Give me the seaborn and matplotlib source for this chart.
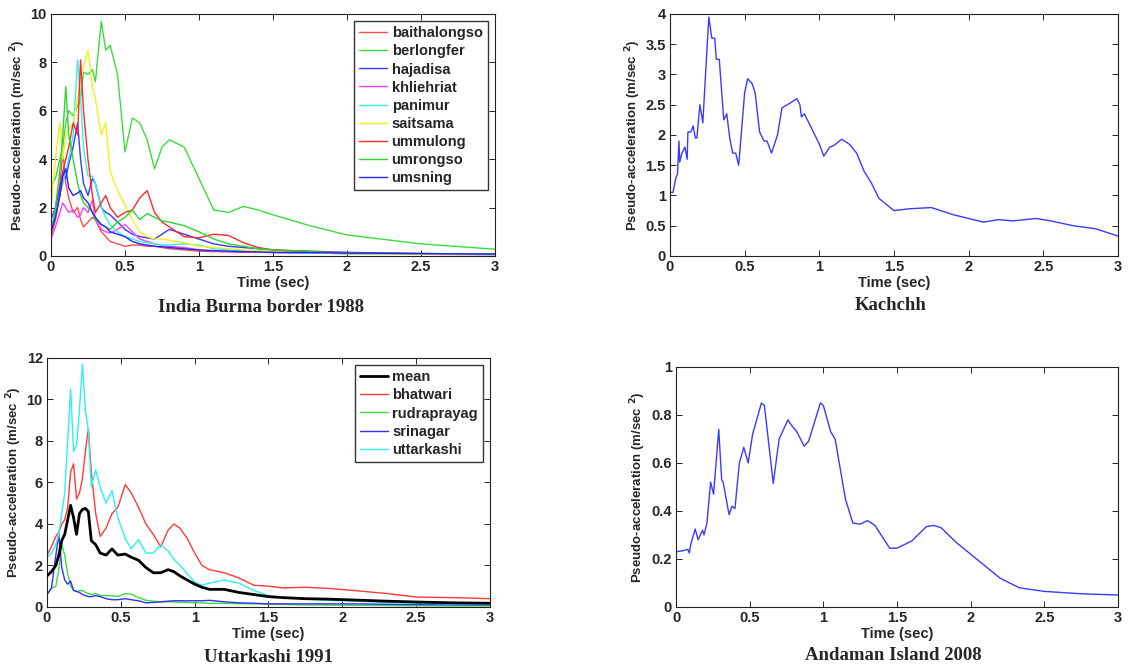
import numpy as np
import pandas as pd
import matplotlib
matplotlib.use("Agg")
import matplotlib.pyplot as plt
import seaborn as sns

# ---- India Burma border 1988 ----
t_ib = [0, 0.03, 0.06, 0.08, 0.1, 0.12, 0.15, 0.18, 0.2, 0.22, 0.25, 0.28, 0.3, 0.34, 0.37,
        0.4, 0.45, 0.5, 0.55, 0.6, 0.65, 0.7, 0.75, 0.8, 0.9, 1.0, 1.1, 1.2, 1.3, 1.4, 1.5,
        1.75, 2.0, 2.5, 3.0]
baithalongso = [0.9, 1.8, 3.0, 4.3, 3.0, 2.4, 1.8, 2.0, 1.5, 1.2, 1.4, 1.6, 1.5, 1.0, 0.8,
                0.6, 0.5, 0.4, 0.45, 0.45, 0.4, 0.4, 0.35, 0.3, 0.25, 0.2, 0.18, 0.17, 0.16, 0.15, 0.15,
                0.12, 0.1, 0.09, 0.08]
berlongfer = [2.9, 3.2, 4.0, 4.5, 5.5, 6.0, 5.8, 6.2, 6.5, 7.6, 7.5, 7.7, 7.2, 9.7, 8.5,
              8.7, 7.5, 4.3, 5.7, 5.5, 4.8, 3.6, 4.5, 4.8, 4.5, 3.2, 1.9, 1.8, 2.05, 1.9, 1.7,
              1.25, 0.87, 0.5, 0.28]
hajadisa = [1.5, 2.0, 2.8, 3.5, 3.2, 3.8, 4.5, 5.5, 4.0, 3.0, 2.5, 3.2, 3.0, 2.0, 1.8,
            1.7, 1.4, 1.1, 0.9, 0.8, 0.75, 0.7, 0.9, 1.1, 0.9, 0.7, 0.5, 0.4, 0.35, 0.3, 0.25,
            0.2, 0.15, 0.1, 0.08]
khliehriat = [0.7, 1.2, 1.8, 2.2, 2.0, 1.8, 1.9, 1.6, 1.7, 2.0, 1.8, 2.3, 1.5, 1.1, 1.0,
              0.95, 1.1, 1.3, 1.0, 0.7, 0.6, 0.5, 0.45, 0.4, 0.35, 0.25, 0.2, 0.18, 0.16, 0.15, 0.14,
              0.12, 0.1, 0.07, 0.05]
panimur = [1.2, 1.8, 2.5, 3.0, 3.5, 4.0, 5.0, 8.1, 6.5, 4.5, 3.3, 3.3, 3.0, 2.0, 1.6,
           1.3, 1.0, 0.8, 0.7, 0.6, 0.55, 0.5, 0.45, 0.45, 0.5, 0.45, 0.3, 0.25, 0.2, 0.18, 0.15,
           0.12, 0.1, 0.08, 0.06]
saitsama = [2.0, 4.0, 5.5, 4.0, 5.0, 5.2, 5.5, 6.5, 7.5, 7.8, 8.5, 7.0, 6.5, 5.0, 5.5,
            3.5, 2.7, 2.1, 1.5, 1.0, 0.8, 0.7, 0.7, 0.65, 0.55, 0.4, 0.35, 0.3, 0.25, 0.22, 0.2,
            0.15, 0.1, 0.08, 0.06]
ummulong = [0.8, 1.5, 2.5, 3.5, 4.0, 4.5, 5.5, 5.0, 8.1, 6.0, 4.0, 2.5, 1.8, 2.2, 2.5,
            2.0, 1.6, 1.8, 1.9, 2.4, 2.7, 1.8, 1.4, 1.2, 0.8, 0.75, 0.9, 0.85, 0.55, 0.35, 0.25,
            0.18, 0.12, 0.1, 0.08]
umrongso = [0.8, 2.0, 3.5, 5.0, 7.0, 5.0, 4.0, 3.0, 2.5, 2.2, 2.0, 1.8, 1.5, 1.3, 1.2,
            1.1, 1.4, 1.6, 1.9, 1.5, 1.75, 1.6, 1.45, 1.4, 1.25, 1.0, 0.7, 0.5, 0.4, 0.3, 0.25,
            0.18, 0.12, 0.1, 0.08]
umsning = [1.0, 1.6, 2.5, 3.3, 3.6, 2.8, 2.5, 2.6, 2.7, 2.4, 2.2, 1.8, 1.6, 1.3, 1.2,
           1.0, 0.9, 0.8, 0.6, 0.5, 0.45, 0.4, 0.38, 0.35, 0.3, 0.25, 0.22, 0.2, 0.18, 0.17, 0.15,
           0.14, 0.12, 0.1, 0.08]

# ---- Uttarkashi 1991 ----
t_ut = [0, 0.03, 0.06, 0.08, 0.1, 0.12, 0.14, 0.16, 0.18, 0.2, 0.22, 0.24, 0.26, 0.28, 0.3,
        0.33, 0.36, 0.4, 0.44, 0.48, 0.53, 0.57, 0.62, 0.67, 0.72, 0.77, 0.82, 0.86, 0.9, 0.95,
        1.0, 1.05, 1.1, 1.2, 1.3, 1.4, 1.5, 1.6, 1.75, 1.9, 2.1, 2.3, 2.5, 2.75, 3.0]
mean = [1.5, 1.7, 2.0, 2.5, 3.2, 3.5, 4.2, 4.9, 4.3, 3.5, 4.5, 4.7, 4.75, 4.6, 3.2,
        3.0, 2.6, 2.5, 2.8, 2.5, 2.55, 2.4, 2.25, 1.9, 1.65, 1.65, 1.8, 1.7, 1.5, 1.3,
        1.1, 0.95, 0.85, 0.85, 0.7, 0.6, 0.5, 0.45, 0.4, 0.38, 0.33, 0.28, 0.24, 0.2, 0.18]
bhatwari = [2.5, 2.9, 3.4, 3.6, 4.0, 4.2, 4.8, 6.5, 6.9, 5.2, 5.5, 6.2, 7.5, 8.6, 6.5,
            4.5, 3.4, 3.8, 4.5, 4.8, 5.9, 5.5, 4.8, 4.0, 3.5, 2.9, 3.7, 4.0, 3.8, 3.3,
            2.6, 2.0, 1.8, 1.65, 1.4, 1.05, 1.0, 0.92, 0.95, 0.9, 0.78, 0.65, 0.48, 0.45, 0.4]
rudraprayag = [0.6, 0.9, 1.0, 1.8, 3.0, 2.5, 1.6, 1.0, 0.8, 0.75, 0.78, 0.8, 0.7, 0.65, 0.6,
               0.65, 0.55, 0.55, 0.55, 0.5, 0.65, 0.62, 0.45, 0.32, 0.28, 0.25, 0.25, 0.24, 0.23, 0.22,
               0.2, 0.2, 0.18, 0.17, 0.16, 0.15, 0.14, 0.12, 0.1, 0.09, 0.08, 0.07, 0.06, 0.05, 0.05]
srinagar = [0.6, 0.9, 2.5, 3.5, 1.9, 1.3, 1.1, 1.25, 0.8, 0.75, 0.7, 0.6, 0.55, 0.5, 0.5,
            0.55, 0.5, 0.4, 0.35, 0.35, 0.4, 0.35, 0.3, 0.2, 0.22, 0.25, 0.28, 0.3, 0.3, 0.3,
            0.3, 0.3, 0.32, 0.25, 0.2, 0.18, 0.15, 0.15, 0.15, 0.15, 0.15, 0.13, 0.12, 0.1, 0.1]
uttarkashi = [2.4, 2.6, 3.0, 3.5, 4.5, 5.5, 8.0, 10.5, 7.5, 7.8, 9.5, 11.7, 9.5, 8.5, 5.8,
              6.6, 5.8, 5.0, 5.6, 4.3, 3.3, 2.8, 3.25, 2.6, 2.6, 3.0, 2.7, 2.3, 2.0, 1.6,
              1.2, 1.05, 1.15, 1.3, 1.15, 0.8, 0.55, 0.45, 0.38, 0.32, 0.28, 0.22, 0.18, 0.15, 0.14]

# ---- Kachchh ----
t_ka = [0, 0.02, 0.04, 0.05, 0.06, 0.065, 0.08, 0.1, 0.115, 0.12, 0.14, 0.155, 0.17, 0.18,
        0.2, 0.22, 0.23, 0.26, 0.28, 0.3, 0.31, 0.33, 0.36, 0.38, 0.4, 0.42, 0.44, 0.46, 0.5,
        0.52, 0.55, 0.57, 0.6, 0.63, 0.65, 0.68, 0.72, 0.75, 0.8, 0.85, 0.87, 0.88, 0.9, 0.95,
        1.0, 1.03, 1.07, 1.1, 1.15, 1.2, 1.25, 1.3, 1.35, 1.4, 1.5, 1.6, 1.75, 1.9, 2.0, 2.1,
        2.2, 2.3, 2.45, 2.55, 2.7, 2.85, 3.0]
kachchh = [1.05, 1.05, 1.3, 1.35, 1.9, 1.55, 1.7, 1.8, 1.6, 2.05, 2.05, 2.15, 1.95, 1.95,
           2.5, 2.2, 2.65, 3.95, 3.6, 3.6, 3.25, 3.25, 2.25, 2.35, 1.95, 1.7, 1.7, 1.5, 2.7,
           2.93, 2.85, 2.7, 2.05, 1.9, 1.9, 1.7, 2.0, 2.45, 2.52, 2.6, 2.5, 2.3, 2.35, 2.1,
           1.85, 1.65, 1.8, 1.83, 1.93, 1.85, 1.7, 1.4, 1.2, 0.95, 0.75, 0.78, 0.8, 0.68, 0.62, 0.56,
           0.6, 0.58, 0.62, 0.58, 0.5, 0.45, 0.33]

# ---- Andaman Island 2008 ----
t_an = [0, 0.05, 0.08, 0.09, 0.1, 0.13, 0.15, 0.18, 0.19, 0.21, 0.235, 0.255, 0.29, 0.31,
        0.32, 0.36, 0.38, 0.4, 0.43, 0.46, 0.49, 0.52, 0.58, 0.6, 0.66, 0.7, 0.76, 0.78, 0.82,
        0.87, 0.9, 0.98, 1.0, 1.05, 1.08, 1.15, 1.2, 1.25, 1.3, 1.35, 1.45, 1.5, 1.6, 1.7,
        1.75, 1.8, 1.9, 2.0, 2.2, 2.33, 2.5, 2.75, 3.0]
andaman = [0.23, 0.235, 0.24, 0.225, 0.26, 0.325, 0.28, 0.32, 0.3, 0.35, 0.52, 0.47, 0.74, 0.53,
           0.52, 0.385, 0.42, 0.41, 0.6, 0.665, 0.6, 0.72, 0.85, 0.84, 0.515, 0.7, 0.78, 0.76, 0.73,
           0.67, 0.69, 0.85, 0.84, 0.73, 0.7, 0.45, 0.35, 0.345, 0.36, 0.34, 0.245, 0.245, 0.275, 0.335,
           0.34, 0.33, 0.27, 0.22, 0.12, 0.08, 0.065, 0.055, 0.05]

ib_names = ['baithalongso', 'berlongfer', 'hajadisa', 'khliehriat', 'panimur',
            'saitsama', 'ummulong', 'umrongso', 'umsning']
ib_values = [baithalongso, berlongfer, hajadisa, khliehriat, panimur,
             saitsama, ummulong, umrongso, umsning]
ib_colors = ['#ff4a4a', '#3ddc3d', '#3a3aff', '#ff3dff', '#33f0f0',
             '#f2f21a', '#ff2a2a', '#2ed52e', '#2424ff']

ut_names = ['mean', 'bhatwari', 'rudraprayag', 'srinagar', 'uttarkashi']
ut_values = [mean, bhatwari, rudraprayag, srinagar, uttarkashi]
ut_colors = ['#000000', '#ff3a3a', '#3ddc3d', '#3030ff', '#2ef0f0']

sns.set_style('ticks')
plt.rcParams['font.family'] = ['Liberation Sans', 'DejaVu Sans']
plt.rcParams['font.weight'] = 'bold'
plt.rcParams['mathtext.default'] = 'bf'

ylab = 'Pseudo-acceleration (m/sec $^{2}$)'


def long_frame(t, names, values):
    rows = []
    for name, vals in zip(names, values):
        rows.append(pd.DataFrame({'t': t, 'a': vals, 'station': name}))
    return pd.concat(rows, ignore_index=True)


def style_axis(ax, ymax, ystep):
    ax.set_xlim(0, 3)
    ax.set_ylim(0, ymax)
    ax.set_xticks(np.arange(0, 3.01, 0.5))
    ax.set_xticklabels(['0', '0.5', '1', '1.5', '2', '2.5', '3'], fontweight='bold')
    yt = np.round(np.arange(0, ymax + 1e-9, ystep), 2)
    ax.set_yticks(yt)
    ax.set_yticklabels([('%g' % v) for v in yt], fontweight='bold')
    ax.tick_params(direction='in', top=True, right=True, length=4, width=0.7,
                   labelsize=10.5, pad=3)
    for s in ax.spines.values():
        s.set_linewidth(0.8)
        s.set_color('#222222')
    ax.set_xlabel('Time (sec)', fontsize=10.5, fontweight='bold', labelpad=1)
    ax.set_ylabel(ylab, fontsize=9.5, fontweight='bold', labelpad=2)


def add_legend(ax, names):
    ax.legend(ax.lines[:len(names)], names, loc='upper right', fontsize=10.5,
              prop={'weight': 'bold', 'size': 10.5},
              frameon=True, fancybox=False, edgecolor='#333333', framealpha=1,
              handlelength=1.9, handletextpad=0.3, labelspacing=0.28,
              borderaxespad=0.5, borderpad=0.35)


fig = plt.figure(figsize=(11.35, 6.71), dpi=100)
ax1 = fig.add_axes([0.0449, 0.6185, 0.3912, 0.3607])
ax2 = fig.add_axes([0.5903, 0.6185, 0.3947, 0.3607])
ax3 = fig.add_axes([0.0414, 0.0954, 0.3903, 0.3711])
ax4 = fig.add_axes([0.5956, 0.0954, 0.3894, 0.3577])

# India Burma border
df_ib = long_frame(t_ib, ib_names, ib_values)
sns.lineplot(data=df_ib, x='t', y='a', hue='station', hue_order=ib_names,
             palette=dict(zip(ib_names, ib_colors)), estimator=None, sort=False,
             linewidth=1.0, legend=False, ax=ax1)
style_axis(ax1, 10, 2)
add_legend(ax1, ib_names)

# Kachchh
sns.lineplot(x=t_ka, y=kachchh, color='#3a3aff', linewidth=1.0, estimator=None,
             sort=False, ax=ax2)
style_axis(ax2, 4, 0.5)

# Uttarkashi
df_ut = long_frame(t_ut, ut_names, ut_values)
sns.lineplot(data=df_ut, x='t', y='a', hue='station', hue_order=ut_names,
             palette=dict(zip(ut_names, ut_colors)), estimator=None, sort=False,
             linewidth=1.0, legend=False, ax=ax3)
ax3.lines[0].set_linewidth(2.0)
ax3.lines[0].set_zorder(5)
style_axis(ax3, 12, 2)
add_legend(ax3, ut_names)

# Andaman
sns.lineplot(x=t_an, y=andaman, color='#3a3aff', linewidth=1.0, estimator=None,
             sort=False, ax=ax4)
style_axis(ax4, 1, 0.2)

title_font = dict(family=['Liberation Serif', 'DejaVu Serif'], fontsize=13.5,
                  fontweight='bold', ha='center', va='center')
fig.text(261 / 1135, 1 - 307 / 671, 'India Burma border 1988', **title_font)
fig.text(891 / 1135, 1 - 305 / 671, 'Kachchh', **title_font)
fig.text(269 / 1135, 1 - 657 / 671, 'Uttarkashi 1991', **title_font)
fig.text(893 / 1135, 1 - 655 / 671, 'Andaman Island 2008', **title_font)

fig.savefig('out.png', dpi=100)
